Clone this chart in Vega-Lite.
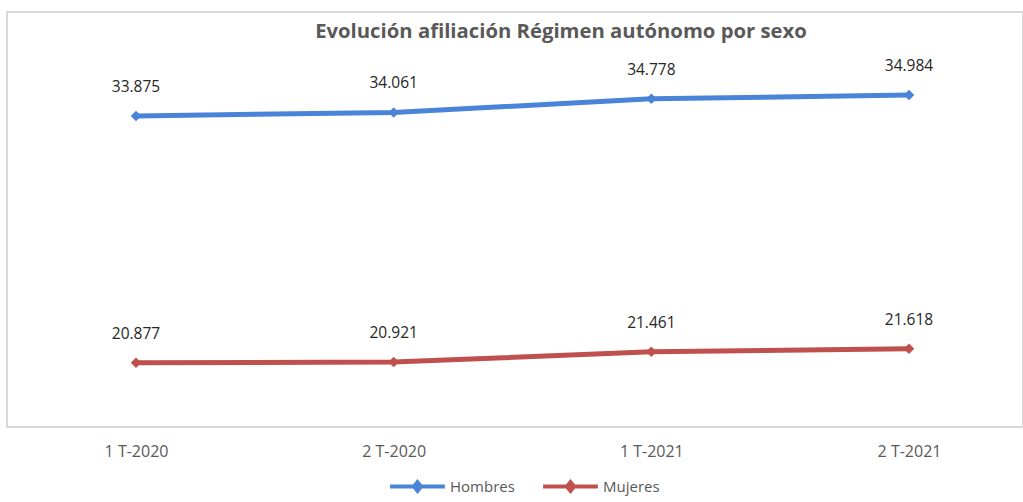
{
  "$schema": "https://vega.github.io/schema/vega-lite/v6.json",
  "width": 1016,
  "height": 415,
  "autosize": {"type": "none"},
  "padding": {"left": 7, "top": 12, "right": 0, "bottom": 75},
  "background": "white",
  "title": {
    "text": "Evolución afiliación Régimen autónomo por sexo",
    "font": "Open Sans",
    "fontSize": 20.3,
    "fontWeight": "bold",
    "color": "#595959",
    "anchor": "middle",
    "offset": -26,
    "dy": 20,
    "baseline": "alphabetic",
    "dx": 46
  },
  "data": {
    "values": [
      {"periodo": "1 T-2020", "sexo": "Hombres", "afiliados": 33875},
      {"periodo": "2 T-2020", "sexo": "Hombres", "afiliados": 34061},
      {"periodo": "1 T-2021", "sexo": "Hombres", "afiliados": 34778},
      {"periodo": "2 T-2021", "sexo": "Hombres", "afiliados": 34984},
      {"periodo": "1 T-2020", "sexo": "Mujeres", "afiliados": 20877},
      {"periodo": "2 T-2020", "sexo": "Mujeres", "afiliados": 20921},
      {"periodo": "1 T-2021", "sexo": "Mujeres", "afiliados": 21461},
      {"periodo": "2 T-2021", "sexo": "Mujeres", "afiliados": 21618}
    ]
  },
  "encoding": {
    "x": {
      "field": "periodo",
      "type": "ordinal",
      "sort": null,
      "scale": {"type": "point", "range": [129, 902], "padding": 0},
      "axis": {
        "title": null,
        "domain": false,
        "ticks": false,
        "grid": false,
        "labelAngle": 0,
        "labelFont": "Open Sans",
        "labelFontSize": 16,
        "labelColor": "#595959",
        "labelPadding": 16
      }
    },
    "y": {
      "field": "afiliados",
      "type": "quantitative",
      "scale": {"domain": [17500, 39350], "nice": false, "zero": false},
      "axis": null
    },
    "color": {
      "field": "sexo",
      "type": "nominal",
      "scale": {"domain": ["Hombres", "Mujeres"], "range": ["#4a84d8", "#c0504d"]},
      "legend": {
        "orient": "none",
        "legendX": 381,
        "legendY": 445,
        "direction": "horizontal",
        "title": null,
        "symbolType": "M-1,0L1,0M0,-0.16L0.13,0L0,0.16L-0.13,0Z",
        "symbolSize": 3000,
        "symbolStrokeWidth": 4,
        "labelFont": "Open Sans",
        "labelFontSize": 15,
        "labelColor": "#595959",
        "labelOffset": 3,
        "columnPadding": 20
      }
    }
  },
  "layer": [
    {"mark": {"type": "line", "strokeWidth": 5}},
    {"mark": {"type": "point", "shape": "diamond", "filled": true, "size": 110, "opacity": 1}},
    {
      "mark": {"type": "text", "dy": -29, "font": "Open Sans", "fontSize": 15.5},
      "encoding": {
        "text": {"field": "afiliados", "type": "quantitative", "format": ",d"},
        "color": {"value": "#262626"}
      }
    }
  ],
  "config": {
    "view": {"stroke": "#d9d9d9", "strokeWidth": 2},
    "locale": {
      "number": {"decimal": ",", "thousands": ".", "grouping": [3], "currency": ["", " €"]}
    }
  }
}
